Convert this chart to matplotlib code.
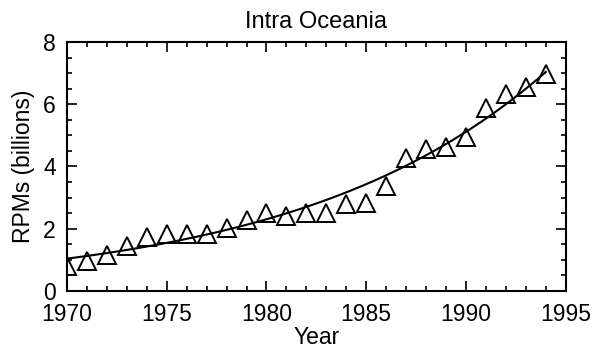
import numpy as np
import matplotlib
matplotlib.use("Agg")
import matplotlib.pyplot as plt
from matplotlib.ticker import MultipleLocator

plt.rcParams['font.family'] = ['Liberation Sans', 'DejaVu Sans']

# data
years = list(range(1970, 1995))
rpms = [0.8, 0.95, 1.15, 1.45, 1.72, 1.84, 1.82, 1.82, 2.02, 2.28,
        2.5, 2.41, 2.5, 2.5, 2.8, 2.84, 3.37, 4.27, 4.56, 4.64,
        4.96, 5.88, 6.34, 6.55, 6.98]

# exponential trend fitted to the points
yr = np.array(years, dtype=float)
coef = np.polyfit(yr - 1970, np.log(rpms), 1, w=np.sqrt(rpms))
xfit = np.linspace(1970, 1994, 200)
yfit = np.exp(np.polyval(coef, xfit - 1970))

fig = plt.figure(figsize=(5.93, 3.53), dpi=100)
ax = fig.add_axes([0.113, 0.176, 0.841, 0.705])

ax.plot(xfit, yfit, color='black', linewidth=1.5)
ax.plot(years, rpms, linestyle='none', marker='^', markersize=13,
        markerfacecolor='none', markeredgecolor='black', markeredgewidth=1.4)

ax.set_xlim(1970, 1995)
ax.set_ylim(0, 8)
ax.xaxis.set_major_locator(MultipleLocator(5))
ax.xaxis.set_minor_locator(MultipleLocator(1))
ax.yaxis.set_major_locator(MultipleLocator(2))
ax.yaxis.set_minor_locator(MultipleLocator(0.5))
ax.tick_params(which='both', direction='in', top=True, right=True,
               labelsize=16.5, width=1.2)
ax.tick_params(axis='x', pad=9)
ax.tick_params(axis='y', pad=8)
ax.tick_params(which='major', length=7)
ax.tick_params(which='minor', length=3.5)
for s in ax.spines.values():
    s.set_linewidth(1.5)

ax.set_title('Intra Oceania', fontsize=17, pad=10)
ax.set_xlabel('Year', fontsize=16.5, labelpad=0)
ax.set_ylabel('RPMs (billions)', fontsize=16.5, labelpad=6)

fig.savefig('out.png', dpi=100)
